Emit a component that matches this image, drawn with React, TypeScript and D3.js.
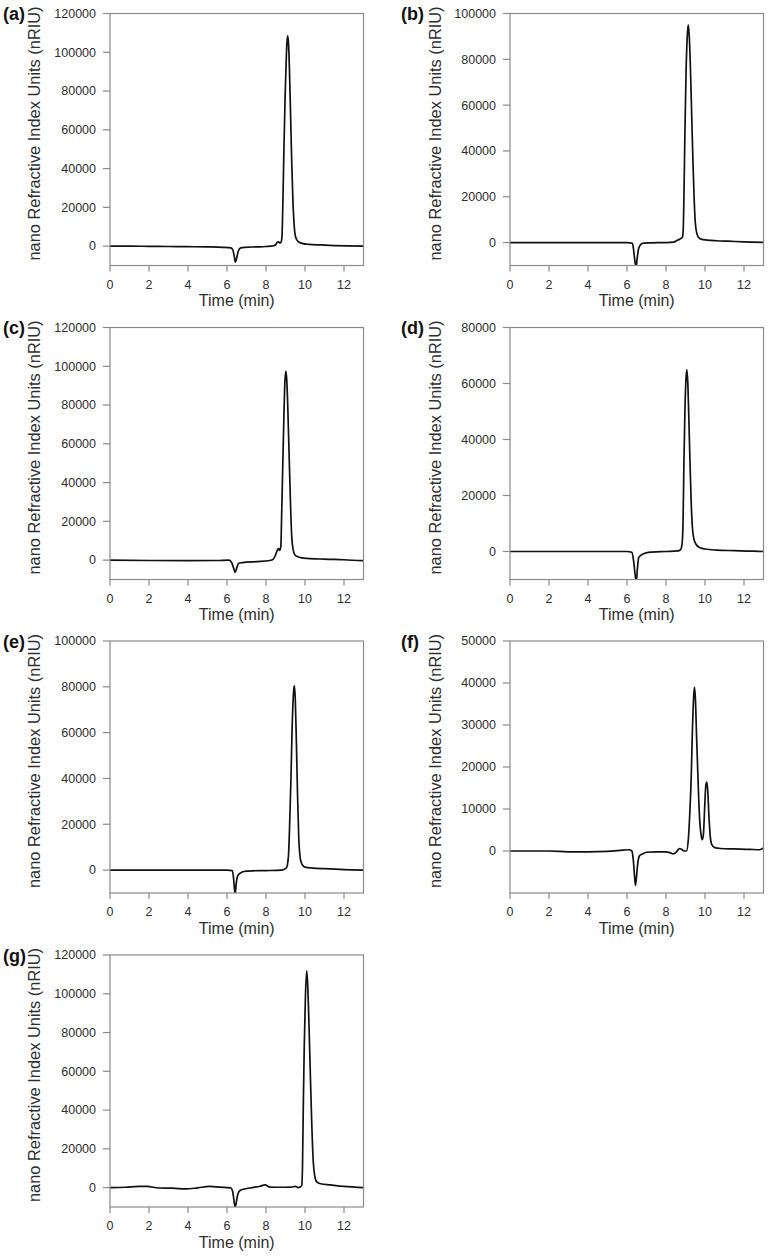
import React from "react";
import * as d3 from "d3";

// ---------- data (time in min, signal in nRIU) ----------
const xTicks = [0, 2, 4, 6, 8, 10, 12];

const yTicksA = [0, 20000, 40000, 60000, 80000, 100000, 120000];
const yTicksB = [0, 20000, 40000, 60000, 80000, 100000];
const yTicksC = [0, 20000, 40000, 60000, 80000, 100000, 120000];
const yTicksD = [0, 20000, 40000, 60000, 80000];
const yTicksE = [0, 20000, 40000, 60000, 80000, 100000];
const yTicksF = [0, 10000, 20000, 30000, 40000, 50000];
const yTicksG = [0, 20000, 40000, 60000, 80000, 100000, 120000];

const traceA: [number, number][] = [
  [0, 0], [1, 0], [2, -100], [3, -200], [4, -300], [5, -400], [5.8, -600], [6.2, -900],
  [6.3, -2000], [6.37, -5000], [6.43, -8300], [6.5, -6000], [6.58, -2500], [6.7, -900],
  [6.9, -600], [7.5, -400], [8, -200], [8.4, 200], [8.5, 800], [8.58, 2000], [8.65, 2200],
  [8.72, 1600], [8.78, 2200], [8.82, 5000], [8.86, 20000], [8.92, 50000], [8.98, 77000],
  [9.04, 97000], [9.08, 106000], [9.12, 108500], [9.16, 103500], [9.2, 92000], [9.26, 68000],
  [9.32, 43000], [9.38, 23500], [9.44, 11500], [9.5, 5500], [9.58, 3200], [9.7, 2000],
  [9.9, 1300], [10.2, 900], [10.8, 600], [11.5, 300], [12.2, 100], [13, 0],
];

const traceB: [number, number][] = [
  [0, 0], [2, 0], [4, 0], [6, 0], [6.28, -300], [6.35, -4000], [6.42, -9000], [6.47, -10500],
  [6.52, -7000], [6.6, -2500], [6.7, -900], [6.85, -200], [7.2, -100], [8, 0], [8.4, 200],
  [8.55, 900], [8.7, 1500], [8.84, 2300], [8.88, 5000], [8.92, 20000], [8.97, 48000],
  [9.03, 75000], [9.09, 90000], [9.14, 95000], [9.2, 89000], [9.26, 74000], [9.32, 55000],
  [9.38, 36000], [9.44, 20000], [9.5, 9000], [9.58, 4000], [9.68, 2200], [9.8, 1500],
  [10.1, 1100], [10.6, 800], [11.2, 600], [12, 300], [13, 100],
];

const traceC: [number, number][] = [
  [0, 0], [2, -200], [4, -300], [5.5, -200], [6.1, 0], [6.25, -1500], [6.35, -4500],
  [6.42, -6400], [6.5, -4000], [6.6, -1600], [6.8, -1300], [7.5, -800], [8.2, -200],
  [8.38, 500], [8.5, 3000], [8.6, 5500], [8.65, 6000], [8.7, 5000], [8.76, 7000],
  [8.8, 22000], [8.86, 49000], [8.92, 75000], [8.97, 92000], [9.02, 97500], [9.07, 92000],
  [9.12, 78000], [9.2, 49000], [9.26, 28000], [9.32, 12000], [9.4, 5000], [9.5, 2400],
  [9.7, 1500], [10.1, 900], [11, 500], [12, 200], [13, -300],
];

const traceD: [number, number][] = [
  [0, 0], [2, 0], [4, 0], [6, 0], [6.25, -300], [6.35, -4000], [6.43, -9000], [6.48, -10500],
  [6.53, -6500], [6.6, -2200], [6.7, -1400], [6.85, -800], [7.1, -300], [8, 0], [8.6, 200],
  [8.75, 700], [8.82, 2500], [8.87, 9000], [8.92, 32000], [8.97, 50000], [9.02, 61000],
  [9.07, 65000], [9.12, 60000], [9.17, 48000], [9.23, 32000], [9.29, 18000], [9.35, 9000],
  [9.43, 4500], [9.55, 2500], [9.7, 1500], [10, 900], [10.6, 500], [11.5, 300], [12.5, 100],
  [13, 0],
];

const traceE: [number, number][] = [
  [0, 0], [2, 0], [4, 0], [6, 0], [6.27, -200], [6.33, -3000], [6.38, -8000], [6.42, -10500],
  [6.47, -6000], [6.55, -2500], [6.7, -1200], [6.85, -600], [7.3, -300], [8, -200], [8.8, 0],
  [9.05, 1000], [9.15, 6000], [9.22, 22000], [9.28, 40000], [9.34, 62000], [9.4, 76000],
  [9.45, 80500], [9.5, 75000], [9.56, 55000], [9.62, 32000], [9.68, 14000], [9.76, 5000],
  [9.85, 2500], [10, 1300], [10.4, 900], [11, 600], [12, 200], [13, 0],
];

const traceF: [number, number][] = [
  [0, 0], [2, 0], [3, -200], [4, -200], [5, -100], [5.8, 200], [6.1, 300], [6.25, 0],
  [6.33, -2500], [6.38, -5500], [6.43, -8200], [6.48, -6500], [6.55, -3000], [6.65, -1100],
  [6.8, -700], [7.0, -300], [7.5, -200], [8.0, -200], [8.2, -400], [8.37, -700], [8.5, -400],
  [8.62, 300], [8.7, 600], [8.8, 400], [8.9, 50], [9.05, 0], [9.15, 3000], [9.22, 9000],
  [9.29, 17000], [9.35, 28000], [9.41, 36000], [9.46, 39000], [9.51, 36000], [9.57, 27000],
  [9.65, 16000], [9.72, 8000], [9.8, 3800], [9.86, 2700], [9.92, 4000], [9.98, 10000],
  [10.04, 15500], [10.09, 16400], [10.14, 14500], [10.2, 8500], [10.27, 3500], [10.35, 1500],
  [10.5, 800], [10.8, 600], [11.5, 500], [12.3, 400], [12.8, 300], [13, 700],
];

const traceG: [number, number][] = [
  [0, 0], [0.8, 200], [1.5, 600], [1.9, 600], [2.5, -200], [3.2, -300], [3.9, -700],
  [4.5, -100], [5.1, 600], [5.6, 300], [6.0, 0], [6.2, -200], [6.3, -2500], [6.37, -7500],
  [6.42, -10000], [6.47, -8000], [6.55, -3500], [6.67, -1500], [6.9, -700], [7.3, 0],
  [7.7, 700], [7.95, 1400], [8.2, 300], [8.7, 200], [9.3, 300], [9.5, 600], [9.65, 0],
  [9.75, 300], [9.83, 1000], [9.87, 10000], [9.91, 40000], [9.96, 72000], [10.02, 98000],
  [10.09, 111800], [10.15, 102000], [10.21, 82000], [10.28, 56000], [10.35, 32000],
  [10.42, 14000], [10.5, 6000], [10.6, 3000], [10.8, 2000], [11.3, 1400], [12, 600], [13, 0],
];

// ---------- panels ----------
const panelLabels = ["(a)", "(b)", "(c)", "(d)", "(e)", "(f)", "(g)"];
const panelYMax = [120000, 100000, 120000, 80000, 100000, 50000, 120000];
const panelYTicks = [yTicksA, yTicksB, yTicksC, yTicksD, yTicksE, yTicksF, yTicksG];
const panelTraces = [traceA, traceB, traceC, traceD, traceE, traceF, traceG];

const W = 768;
const H = 1258;
const colLeft = [110, 510];
const rowTop = [13.5, 327.5, 641, 955];
const plotW = 253.5;
const plotH = 252;
const FONT = "'Liberation Sans', Arial, Helvetica, sans-serif";
const AXIS = "#8a8a8a";
const TXT = "#2e2e2e";

function Panel({ idx }: { idx: number }) {
  const col = idx % 2;
  const row = Math.floor(idx / 2);
  const left = colLeft[col];
  const top = rowTop[row];
  const x = d3.scaleLinear().domain([0, 13]).range([left, left + plotW]);
  const y = d3.scaleLinear().domain([-10000, panelYMax[idx]]).range([top + plotH, top]);
  const line = d3
    .line<[number, number]>()
    .x((d) => x(d[0]))
    .y((d) => y(d[1]))
    .curve(d3.curveMonotoneX);
  const clipId = `clip-${idx}`;
  const bottom = top + plotH;
  const yLabelX = col === 0 ? left - 70 : left - 69;
  const yLabelY = top + plotH / 2 - 6;
  return (
    <g>
      <defs>
        <clipPath id={clipId}>
          <rect x={left} y={top} width={plotW} height={plotH} />
        </clipPath>
      </defs>
      <path
        d={line(panelTraces[idx]) || ""}
        fill="none"
        stroke="#111"
        strokeWidth={1.7}
        strokeLinejoin="round"
        clipPath={`url(#${clipId})`}
      />
      <rect x={left} y={top} width={plotW} height={plotH} fill="none" stroke={AXIS} strokeWidth={1.2} />
      {xTicks.map((t) => (
        <g key={`x${t}`}>
          <line x1={x(t)} x2={x(t)} y1={bottom} y2={bottom + 6} stroke={AXIS} strokeWidth={1.2} />
          <text
            x={x(t)}
            y={bottom + 23}
            textAnchor="middle"
            fontSize={12.5}
            fontFamily={FONT}
            fill={TXT}
          >
            {t}
          </text>
        </g>
      ))}
      {panelYTicks[idx].map((t) => (
        <g key={`y${t}`}>
          <line x1={left - 7} x2={left} y1={y(t)} y2={y(t)} stroke={AXIS} strokeWidth={1.2} />
          <text
            x={left - 14}
            y={y(t)}
            dy="0.35em"
            textAnchor="end"
            fontSize={12.5}
            fontFamily={FONT}
            fill={TXT}
          >
            {t}
          </text>
        </g>
      ))}
      <text
        x={left + plotW / 2}
        y={bottom + 40.5}
        textAnchor="middle"
        fontSize={16}
        fontFamily={FONT}
        fill={TXT}
      >
        Time (min)
      </text>
      <text
        transform={`translate(${yLabelX},${yLabelY}) rotate(-90)`}
        textAnchor="middle"
        fontSize={16.4}
        fontFamily={FONT}
        fill={TXT}
      >
        nano Refractive Index Units (nRIU)
      </text>
      <text
        x={col === 0 ? 3 : 401}
        y={top + 6.5}
        fontSize={18}
        fontWeight="bold"
        fontFamily={FONT}
        fill="#111"
      >
        {panelLabels[idx]}
      </text>
    </g>
  );
}

export default function App() {
  return (
    <svg
      width={W}
      height={H}
      viewBox={`0 0 ${W} ${H}`}
      style={{ position: "absolute", left: 0, top: 0, background: "#fff" }}
    >
      <rect x={0} y={0} width={W} height={H} fill="#fff" />
      {panelLabels.map((_, i) => (
        <Panel key={i} idx={i} />
      ))}
    </svg>
  );
}
